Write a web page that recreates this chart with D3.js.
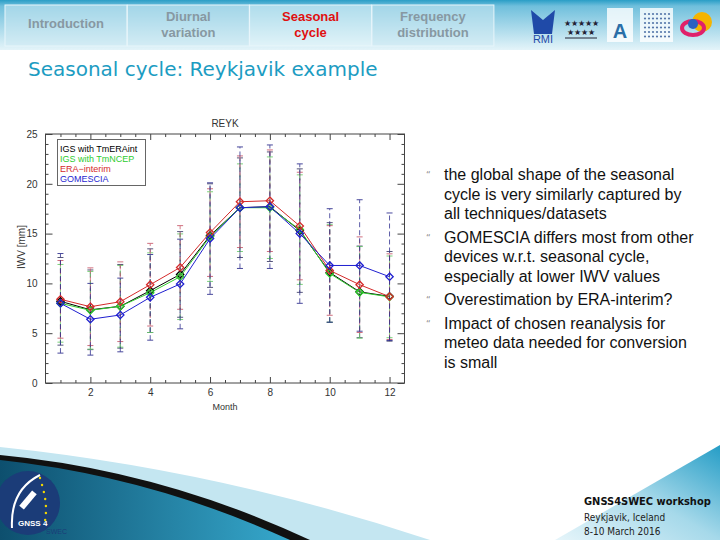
<!DOCTYPE html>
<html>
<head>
<meta charset="utf-8">
<script src="https://cdn.jsdelivr.net/npm/d3@7"></script>
<style>
  body { margin: 0; background: #fff; }
  svg { display: block; }
</style>
</head>
<body>
<div id="slide"></div>
<script>
// chart values
const months = [1, 2, 3, 4, 5, 6, 7, 8, 9, 10, 11, 12];
const tmERAint = [8.2, 7.35, 7.7, 9.27, 10.9, 14.8, 17.6, 17.7, 15.3, 11.1, 9.15, 8.7];
const tmNCEP = [8.0, 7.3, 7.7, 9.07, 10.67, 14.7, 17.6, 17.6, 15.4, 11.0, 9.1, 8.65];
const eraInterim = [8.4, 7.66, 8.16, 9.87, 11.6, 15.1, 18.2, 18.3, 15.76, 11.3, 9.87, 8.67];
const gomescia = [8.0, 6.4, 6.83, 8.6, 9.94, 14.5, 17.6, 17.7, 15.0, 11.8, 11.8, 10.67];
const sdERAint = [4.4, 4.0, 4.2, 4.2, 4.3, 5.2, 5.0, 5.5, 6.2, 5.0, 4.6, 4.5];
const sdNCEP = [3.9, 3.9, 4.1, 4.0, 4.3, 4.5, 4.4, 5.1, 5.5, 4.9, 4.6, 4.1];
const sdERA = [3.9, 3.9, 4.0, 4.15, 4.2, 4.4, 4.6, 5.1, 5.4, 4.5, 4.8, 4.3];
const sdGomescia = [5.0, 3.6, 3.7, 4.3, 4.5, 5.6, 6.1, 6.2, 7.0, 5.7, 6.6, 6.4];
const seriesNames = ["IGS with TmERAint", "IGS with TmNCEP", "ERA\u2212interim", "GOMESCIA"];
const xTicks = [2, 4, 6, 8, 10, 12];
const yTicks = [0, 5, 10, 15, 20, 25];

const tabs = [["Introduction"], ["Diurnal", "variation"], ["Seasonal", "cycle"], ["Frequency", "distribution"]];
const bullets = [
  ["the global shape of the seasonal", "cycle is very similarly captured by", "all techniques/datasets"],
  ["GOMESCIA differs most from other", "devices w.r.t. seasonal cycle,", "especially at lower IWV values"],
  ["Overestimation by ERA-interim?"],
  ["Impact of chosen reanalysis for", "meteo data needed for conversion", "is small"]
];

const svg = d3.select("#slide")
  .append("svg")
  .attr("width", 720)
  .attr("height", 540);

const defs = svg.append("defs");
const hg = defs.append("linearGradient").attr("id", "headGrad").attr("x1", 0).attr("y1", 0).attr("x2", 0).attr("y2", 1);
hg.append("stop").attr("offset", 0).attr("stop-color", "#2a9ec6");
hg.append("stop").attr("offset", 0.12).attr("stop-color", "#6fbfdc");
hg.append("stop").attr("offset", 1).attr("stop-color", "#e4f4f9");
const lg = defs.append("linearGradient").attr("id", "leftGrad").attr("x1", 0).attr("y1", 0).attr("x2", 1).attr("y2", 0);
lg.append("stop").attr("offset", 0).attr("stop-color", "#0d4f6e");
lg.append("stop").attr("offset", 1).attr("stop-color", "#36a8cc");
const rg = defs.append("linearGradient").attr("id", "rightGrad").attr("x1", 0).attr("y1", 1).attr("x2", 1).attr("y2", 0);
rg.append("stop").attr("offset", 0).attr("stop-color", "#e6f5fa");
rg.append("stop").attr("offset", 0.5).attr("stop-color", "#a6d9ea");
rg.append("stop").attr("offset", 1).attr("stop-color", "#259dc6");

// header band
svg.append("rect").attr("x", 0).attr("y", 0).attr("width", 720).attr("height", 50).attr("fill", "url(#headGrad)");
tabs.forEach(function (t, i) {
  const x0 = 5 + i * 122.3;
  svg.append("rect")
    .attr("x", x0).attr("y", 5).attr("width", 122).attr("height", 41)
    .attr("fill", i == 2 ? "#e6f5fa" : "#cde9f3").attr("fill-opacity", 0.55)
    .attr("stroke", "#e8f6fb").attr("stroke-width", 1);
  const txt = svg.append("text")
    .attr("x", x0 + 61).attr("text-anchor", "middle")
    .style("font-family", "Liberation Sans, Arial, sans-serif")
    .style("font-size", "13px").style("font-weight", "bold")
    .attr("fill", i == 2 ? "#e01010" : "#8798a2");
  t.forEach(function (line, j) {
    txt.append("tspan").attr("x", x0 + 61)
      .attr("y", t.length == 1 ? 28 : 21 + j * 16)
      .text(line);
  });
});

// logos (simplified)
const logos = svg.append("g");
logos.append("path").attr("d", "M531,10 L543,20 L555,10 L552,34 L534,34 Z").attr("fill", "#1f4aa8");
logos.append("text").attr("x", 543).attr("y", 43).attr("text-anchor", "middle").attr("fill", "#1f4aa8")
  .style("font-family", "Liberation Sans, Arial, sans-serif").style("font-size", "11px").text("RMI");
logos.append("text").attr("x", 581).attr("y", 26).attr("text-anchor", "middle").attr("fill", "#223")
  .style("font-size", "8px").text("★★★★★");
logos.append("text").attr("x", 581).attr("y", 35).attr("text-anchor", "middle").attr("fill", "#223")
  .style("font-size", "8px").text("★★★★");
logos.append("line").attr("x1", 565).attr("x2", 597).attr("y1", 38).attr("y2", 38).attr("stroke", "#223");
logos.append("rect").attr("x", 607).attr("y", 8).attr("width", 26).attr("height", 34).attr("fill", "#fff").attr("fill-opacity", 0.8);
logos.append("text").attr("x", 620).attr("y", 38).attr("text-anchor", "middle").attr("fill", "#2a6fa8")
  .style("font-family", "Liberation Sans, Arial, sans-serif").style("font-size", "20px").style("font-weight", "bold").text("A");
logos.append("rect").attr("x", 640).attr("y", 8).attr("width", 33).attr("height", 34).attr("fill", "#fff").attr("fill-opacity", 0.8);
for (let r = 0; r < 6; r++) {
  for (let c = 0; c < 7; c++) {
    logos.append("circle").attr("cx", 645 + c * 4).attr("cy", 14 + r * 4.5).attr("r", 1.1).attr("fill", "#5577aa");
  }
}
logos.append("circle").attr("cx", 702).attr("cy", 22).attr("r", 10).attr("fill", "#f5b400");
logos.append("ellipse").attr("cx", 693).attr("cy", 28).attr("rx", 11).attr("ry", 7).attr("fill", "none").attr("stroke", "#e0206a").attr("stroke-width", 4);
logos.append("circle").attr("cx", 693).attr("cy", 24).attr("r", 5).attr("fill", "#2a60c0");

// slide title
svg.append("text")
  .attr("x", 28).attr("y", 76)
  .attr("fill", "#1c9cc2")
  .style("font-family", "DejaVu Sans, sans-serif")
  .style("font-size", "20px")
  .text("Seasonal cycle: Reykjavik example");

// bullets
let lineY = 180;
bullets.forEach(function (b, i) {
  svg.append("text")
    .attr("x", 426).attr("y", lineY - 2)
    .attr("fill", "#8a8a8a")
    .style("font-family", "DejaVu Sans, sans-serif")
    .style("font-size", "9px")
    .text("\u201C");
  b.forEach(function (line) {
    svg.append("text")
      .attr("x", 444).attr("y", lineY)
      .attr("fill", "#111")
      .style("font-family", "Liberation Sans, Arial, sans-serif")
      .style("font-size", "16px")
      .text(line);
    lineY += 19.5;
  });
  lineY += 4;
});

// footer decoration
svg.append("path").attr("d", "M0,447 Q220,470 430,540 L0,540 Z").attr("fill", "#c4e6f1");
svg.append("path").attr("d", "M0,455 Q160,470 310,540 L0,540 Z").attr("fill", "#111");
svg.append("path").attr("d", "M0,460 Q150,476 290,540 L0,540 Z").attr("fill", "url(#leftGrad)");
svg.append("path").attr("d", "M720,445 L720,540 L555,540 Z").attr("fill", "url(#rightGrad)");
svg.append("circle").attr("cx", 28).attr("cy", 503).attr("r", 32).attr("fill", "#1b3c78");
svg.append("path").attr("d", "M12,528 Q10,490 40,475").attr("fill", "none").attr("stroke", "#fff").attr("stroke-width", 2);
svg.append("rect").attr("x", 18).attr("y", 497).attr("width", 20).attr("height", 6).attr("fill", "#fff")
  .attr("transform", "rotate(-50,28,500)");
svg.append("text").attr("x", 18).attr("y", 526).attr("fill", "#fff")
  .style("font-family", "Liberation Sans, Arial, sans-serif").style("font-size", "8px").style("font-weight", "bold").text("GNSS 4");
[0, 1, 2, 3, 4, 5, 6].forEach(function (k) {
  svg.append("circle").attr("cx", 40 + 6 * Math.sin(k * 0.35)).attr("cy", 478 + k * 7).attr("r", 1.2).attr("fill", "#f2d600");
});
svg.append("text").attr("x", 46).attr("y", 534).attr("fill", "#1b3c78")
  .style("font-family", "Liberation Sans, Arial, sans-serif").style("font-size", "7px").text("SWEC");
svg.append("text").attr("x", 584).attr("y", 505).attr("fill", "#111")
  .style("font-family", "DejaVu Sans Condensed, sans-serif").style("font-size", "11px").style("font-weight", "bold")
  .text("GNSS4SWEC workshop");
svg.append("text").attr("x", 584).attr("y", 521).attr("fill", "#222")
  .style("font-family", "DejaVu Sans Condensed, sans-serif").style("font-size", "10px")
  .text("Reykjavik, Iceland");
svg.append("text").attr("x", 584).attr("y", 535).attr("fill", "#222")
  .style("font-family", "DejaVu Sans Condensed, sans-serif").style("font-size", "10px")
  .text("8-10 March 2016");

// ---- the chart ----
const x = d3.scaleLinear().domain([0.5, 12.5]).range([45.5, 404.5]);
const y = d3.scaleLinear().domain([0, 25]).range([383, 134]);

const chart = svg.append("g")
  .style("font-family", "Liberation Sans, Arial, sans-serif");

chart.append("rect")
  .attr("x", 45.5).attr("y", 134).attr("width", 359).attr("height", 249)
  .attr("fill", "#fff").attr("stroke", "#444").attr("stroke-width", 1);

const minorX = d3.range(1, 12.5, 0.5).filter(v => xTicks.indexOf(v) < 0);
const minorY = d3.range(1, 25, 1).filter(v => yTicks.indexOf(v) < 0);

function styleAxis(g) {
  g.select(".domain").remove();
  g.selectAll(".tick line").attr("stroke", "#444");
  g.selectAll(".tick text").attr("fill", "#333").style("font-size", "10px");
}

chart.append("g").attr("transform", "translate(0,383)")
  .call(d3.axisBottom(x).tickValues(xTicks).tickFormat(d3.format("d")).tickSizeInner(-6).tickSizeOuter(0).tickPadding(6))
  .call(styleAxis);
chart.append("g").attr("transform", "translate(0,383)")
  .call(d3.axisBottom(x).tickValues(minorX).tickFormat("").tickSizeInner(-3).tickSizeOuter(0))
  .call(styleAxis);
chart.append("g").attr("transform", "translate(0,134)")
  .call(d3.axisTop(x).tickValues(xTicks).tickFormat("").tickSizeInner(-6).tickSizeOuter(0))
  .call(styleAxis);
chart.append("g").attr("transform", "translate(0,134)")
  .call(d3.axisTop(x).tickValues(minorX).tickFormat("").tickSizeInner(-3).tickSizeOuter(0))
  .call(styleAxis);
chart.append("g").attr("transform", "translate(45.5,0)")
  .call(d3.axisLeft(y).tickValues(yTicks).tickFormat(d3.format("d")).tickSizeInner(-7).tickSizeOuter(0).tickPadding(8))
  .call(styleAxis);
chart.append("g").attr("transform", "translate(45.5,0)")
  .call(d3.axisLeft(y).tickValues(minorY).tickFormat("").tickSizeInner(-3).tickSizeOuter(0))
  .call(styleAxis);
chart.append("g").attr("transform", "translate(404.5,0)")
  .call(d3.axisRight(y).tickValues(yTicks).tickFormat("").tickSizeInner(-7).tickSizeOuter(0))
  .call(styleAxis);
chart.append("g").attr("transform", "translate(404.5,0)")
  .call(d3.axisRight(y).tickValues(minorY).tickFormat("").tickSizeInner(-3).tickSizeOuter(0))
  .call(styleAxis);

chart.append("text").attr("x", 225).attr("y", 127).attr("text-anchor", "middle")
  .attr("fill", "#333").style("font-size", "10px").text("REYK");
chart.append("text").attr("x", 225).attr("y", 410).attr("text-anchor", "middle")
  .attr("fill", "#333").style("font-size", "9px").text("Month");
chart.append("text").attr("transform", "translate(25,247) rotate(-90)").attr("text-anchor", "middle")
  .attr("fill", "#333").style("font-size", "10px").text("IWV [mm]");

const series = [
  { name: seriesNames[0], values: tmERAint, sd: sdERAint, color: "#000000", bar: "#3a3a66" },
  { name: seriesNames[1], values: tmNCEP, sd: sdNCEP, color: "#2ecc2e", bar: "#66cc66" },
  { name: seriesNames[2], values: eraInterim, sd: sdERA, color: "#d42a2a", bar: "#c8586a" },
  { name: seriesNames[3], values: gomescia, sd: sdGomescia, color: "#1f1fd0", bar: "#2a2a8c" }
];

// error bars
series.forEach(function (s) {
  const g = chart.append("g").attr("opacity", 0.85);
  months.forEach(function (m, i) {
    const lo = s.values[i] - s.sd[i], hi = s.values[i] + s.sd[i];
    g.append("line")
      .attr("x1", x(m)).attr("x2", x(m)).attr("y1", y(lo)).attr("y2", y(hi))
      .attr("stroke", s.bar).attr("stroke-width", 0.9).attr("stroke-dasharray", "5,3");
    [lo, hi].forEach(function (v) {
      g.append("line")
        .attr("x1", x(m) - 3).attr("x2", x(m) + 3).attr("y1", y(v)).attr("y2", y(v))
        .attr("stroke", s.bar).attr("stroke-width", 1);
    });
  });
});

// lines and markers
const line = d3.line()
  .x((d, i) => x(months[i]))
  .y(d => y(d));
series.forEach(function (s) {
  chart.append("path")
    .datum(s.values)
    .attr("fill", "none")
    .attr("stroke", s.color)
    .attr("stroke-width", 1)
    .attr("d", line);
  chart.append("g").selectAll("path")
    .data(s.values)
    .join("path")
    .attr("transform", (d, i) => `translate(${x(months[i])},${y(d)})`)
    .attr("d", d3.symbol(d3.symbolDiamond2, 34))
    .attr("fill", "none")
    .attr("stroke", s.color)
    .attr("stroke-width", 1.3);
});

// legend
chart.append("rect")
  .attr("x", 57.5).attr("y", 139.5).attr("width", 88).attr("height", 46)
  .attr("fill", "#fff").attr("stroke", "#666").attr("stroke-width", 1);
series.forEach(function (s, i) {
  chart.append("text")
    .attr("x", 60).attr("y", 152 + i * 10)
    .attr("fill", s.color)
    .style("font-size", "9px")
    .text(s.name);
});
</script>
</body>
</html>
